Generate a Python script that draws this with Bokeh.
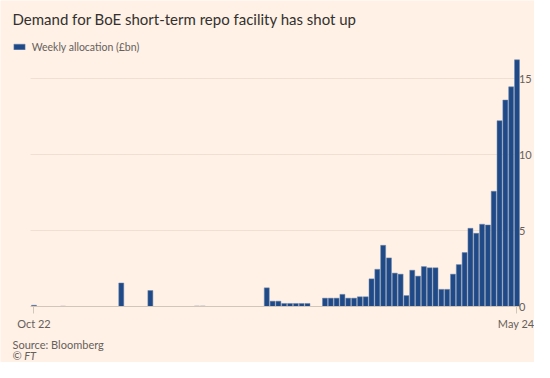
from bokeh.plotting import figure
from bokeh.models import (ColumnDataSource, Label, Legend, LegendItem, FixedTicker,
                          LinearAxis, Range1d)
from bokeh.embed import file_html
from bokeh.resources import INLINE

# ---- data ----
weeks = list(range(84))
allocation = [0.08, 0, 0, 0, 0, 0.02, 0, 0, 0, 0,
              0, 0, 0, 0, 0, 1.55, 0, 0, 0, 0,
              1.05, 0, 0, 0, 0, 0, 0, 0, 0.03, 0.03,
              0, 0, 0, 0, 0, 0, 0, 0, 0, 0,
              1.23, 0.35, 0.35, 0.2, 0.2, 0.2, 0.2, 0.2, 0, 0,
              0.55, 0.55, 0.55, 0.8, 0.55, 0.55, 0.64, 0.64, 1.82, 2.45,
              4.03, 3.2, 2.2, 2.13, 0.72, 2.39, 2.0, 2.63, 2.55, 2.55,
              1.13, 1.13, 2.13, 2.76, 3.55, 5.15, 4.82, 5.42, 5.37, 7.59,
              12.24, 13.6, 14.47, 16.25]
x_tick_pos = [0, 83]
x_tick_labels = ["Oct 22", "May 24"]
y_ticks = [0, 5, 10, 15]

BG = "#fff1e5"
BAR = "#1f4a87"
TXT = "#66605c"
FONT = "Lato"

W, H = 534, 362
PX_X = 5.82      # pixels per week
PX_Y = 15.18     # pixels per £bn
X0, X1 = -0.6, 83.43
x_start = X0 - 30 / PX_X
x_end = X1 + (W - 519) / PX_X
y_start = -(H - 306) / PX_Y
y_end = 306 / PX_Y

src = ColumnDataSource(dict(week=weeks, value=allocation))

p = figure(width=W, height=H, output_backend="svg", toolbar_location=None,
           x_range=Range1d(x_start, x_end), y_range=Range1d(y_start, y_end),
           background_fill_color=BG, border_fill_color=BG, outline_line_color=None,
           min_border_left=0, min_border_right=0, min_border_top=0, min_border_bottom=0,
           x_axis_location=None, y_axis_location=None)

r = p.vbar(x="week", top="value", width=0.86, source=src, fill_color=BAR,
           line_color="#6f86ad", line_width=0.5)

# x axis at zero
xa = LinearAxis(ticker=FixedTicker(ticks=x_tick_pos), fixed_location=0, bounds=(X0, X1))
xa.major_label_overrides = {k: v for k, v in zip(x_tick_pos, x_tick_labels)}
xa.minor_tick_line_color = None
xa.major_tick_in = 0
xa.major_tick_out = 7
xa.major_tick_line_color = "#d2c6bb"
xa.axis_line_color = "#d2c6bb"
xa.major_label_text_font = FONT
xa.major_label_text_font_size = "11px"
xa.major_label_text_color = TXT
xa.major_label_standoff = 3
p.add_layout(xa, "below")

# right y axis, drawn just right of the last bar
ya = LinearAxis(ticker=FixedTicker(ticks=y_ticks), fixed_location=X1 - 0.45, bounds=(0, 16))
ya.axis_line_color = None
ya.major_tick_line_color = None
ya.major_tick_out = 0
ya.major_tick_in = 0
ya.minor_tick_line_color = None
ya.minor_tick_out = 0
ya.major_label_text_font = FONT
ya.major_label_text_font_size = "11px"
ya.major_label_text_color = TXT
ya.major_label_standoff = 2
p.add_layout(ya, "right")

p.xgrid.grid_line_color = None
p.ygrid.ticker = FixedTicker(ticks=[5, 10, 15])
p.ygrid.cross_bounds = (X0, X1)
p.ygrid.grid_line_color = "#efe0d3"
p.ygrid.grid_line_width = 1

legend = Legend(items=[LegendItem(label="Weekly allocation (£bn)", renderers=[r])],
                location=(11.7, H - 52.5), orientation="horizontal",
                glyph_width=14, glyph_height=7, label_height=7, label_standoff=6,
                padding=0, margin=0, border_line_color=None, background_fill_alpha=0,
                label_text_font=FONT, label_text_font_size="10.5px", label_text_color=TXT)
p.add_layout(legend, "center")

p.add_layout(Label(x=12, y=H - 18.3, x_units="screen", y_units="screen",
                   text="Demand for BoE short-term repo facility has shot up",
                   text_font=FONT, text_font_size="15px", text_color="#33302e",
                   text_baseline="alphabetic"))
p.add_layout(Label(x=12, y=H - 344, x_units="screen", y_units="screen",
                   text="Source: Bloomberg", text_font=FONT, text_font_size="11px",
                   text_color=TXT, text_baseline="alphabetic"))
p.add_layout(Label(x=12, y=H - 355, x_units="screen", y_units="screen",
                   text="© FT", text_font=FONT, text_font_size="11px",
                   text_font_style="italic", text_color=TXT, text_baseline="alphabetic"))

open("out.html", "w").write(file_html(p, INLINE))
